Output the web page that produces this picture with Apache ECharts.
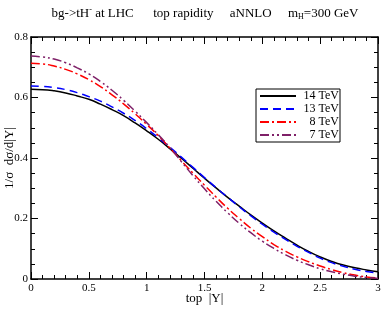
<!DOCTYPE html>
<html><head><meta charset="utf-8">
<script src="https://cdn.jsdelivr.net/npm/echarts@6/dist/echarts.min.js"></script>
<style>html,body{margin:0;padding:0;background:#fff}#c{width:382px;height:309px}</style>
</head><body><div id="c"></div>
<script>
var rapidity = [0.0,0.1,0.2,0.3,0.4,0.5,0.6,0.7,0.8,0.9,1.0,1.1,1.2,1.3,1.4,1.5,1.6,1.7,1.8,1.9,2.0,2.1,2.2,2.3,2.4,2.5,2.6,2.7,2.8,2.9,3.0];
var tev14 = [0.627,0.626,0.622,0.615,0.605,0.594,0.578,0.560,0.540,0.516,0.490,0.462,0.431,0.399,0.366,0.333,0.301,0.270,0.241,0.212,0.185,0.159,0.135,0.112,0.091,0.073,0.058,0.046,0.037,0.030,0.024];
var tev13 = [0.638,0.637,0.633,0.626,0.616,0.603,0.588,0.569,0.548,0.524,0.497,0.467,0.436,0.403,0.369,0.335,0.302,0.270,0.239,0.209,0.181,0.155,0.131,0.108,0.088,0.069,0.054,0.042,0.032,0.025,0.019];
var tev8 = [0.713,0.711,0.704,0.693,0.678,0.659,0.636,0.609,0.579,0.546,0.511,0.474,0.433,0.391,0.350,0.310,0.271,0.234,0.200,0.168,0.140,0.114,0.092,0.073,0.057,0.043,0.031,0.021,0.013,0.007,0.003];
var tev7 = [0.737,0.734,0.727,0.715,0.698,0.678,0.653,0.624,0.591,0.555,0.517,0.477,0.435,0.388,0.342,0.298,0.257,0.219,0.184,0.153,0.125,0.101,0.080,0.062,0.047,0.034,0.024,0.016,0.009,0.005,0.002];
var seriesNames = ['14 TeV','13 TeV','8 TeV','7 TeV'];
var seriesColors = ['#000000','#0000ff','#ff0000','#7f2068'];
var seriesDash = ['solid',[8,5],[9,3,2,3],[9,3,2,3,2,3]];
var seriesValues = [tev14, tev13, tev8, tev7];

var font = 'Liberation Serif';
function pairs(v){ return rapidity.map(function(x,i){ return [x, v[i]]; }); }

var chart = echarts.init(document.getElementById('c'), null, {renderer:'canvas'});
function mkAxis(extra, split){
  var a = {
    axisLine:{show:true, onZero:false, lineStyle:{color:'#000', width:1.5}},
    axisTick:{show:true, inside:true, length:7, lineStyle:{color:'#000', width:1}},
    minorTick:{show:true, splitNumber:split, length:4, lineStyle:{color:'#000', width:1}},
    splitLine:{show:false},
    minorSplitLine:{show:false},
    nameMoveOverlap:false,
    axisLabel:{color:'#000', fontFamily:font, fontSize:11}
  };
  for (var k in extra) a[k] = extra[k];
  return a;
}
chart.setOption({
  animation:false,
  backgroundColor:'#fff',
  title:{
    text:'bg->tH{sup|-} at LHC      top rapidity     aNNLO     m{sub|H}=300 GeV',
    left:200, textAlign:'center', top:1,
    textStyle:{fontFamily:font, fontSize:13, fontWeight:'normal', color:'#000',
      rich:{sup:{fontFamily:font, fontSize:8, verticalAlign:'top', padding:[0,0,7,0]},
            sub:{fontFamily:font, fontSize:8, padding:[7,0,0,0]}}}
  },
  grid:{left:31, right:4, top:37, bottom:30, outerBoundsMode:'none', containLabel:false},
  legend:{
    data:seriesNames,
    orient:'vertical', left:256, top:89,
    itemWidth:36, itemHeight:8, itemGap:1,
    padding:[1,1,1,3],
    borderColor:'#000', borderWidth:1, backgroundColor:'#fff',
    itemStyle:{opacity:0},
    formatter:function(n){ return '{a|'+n+'}'; },
    textStyle:{fontFamily:font, fontSize:12, color:'#000', lineHeight:11.5,
      rich:{a:{width:38, align:'right', fontFamily:font, fontSize:12, lineHeight:11.5}}}
  },
  xAxis:[
    mkAxis({type:'value', min:0, max:3, interval:0.5, position:'bottom',
      name:'top  |Y|', nameLocation:'middle', nameGap:13,
      nameTextStyle:{fontFamily:font, fontSize:13, color:'#000'},
      axisLabel:{color:'#000', fontFamily:font, fontSize:11, margin:4, formatter:function(v){return String(v);}}}, 5),
    mkAxis({type:'value', min:0, max:3, interval:0.5, position:'top', axisLabel:{show:false}}, 5)
  ],
  yAxis:[
    mkAxis({type:'value', min:0, max:0.8, interval:0.2, position:'left',
      name:'1/σ  dσ/d|Y|', nameLocation:'middle', nameGap:15,
      nameTextStyle:{fontFamily:font, fontSize:13, color:'#000'},
      axisLabel:{color:'#000', fontFamily:font, fontSize:11, margin:3, formatter:function(v){return String(Math.round(v*10)/10);}}}, 4),
    mkAxis({type:'value', min:0, max:0.8, interval:0.2, position:'right', axisLabel:{show:false}}, 4)
  ],
  series: seriesNames.map(function(n,i){
    return {name:n, type:'line', smooth:true, symbol:'none', showSymbol:false,
      data:pairs(seriesValues[i]), color:seriesColors[i],
      itemStyle:{color:seriesColors[i]},
      lineStyle:{color:seriesColors[i], width:1.5, type:seriesDash[i]}};
  })
});
</script></body></html>
